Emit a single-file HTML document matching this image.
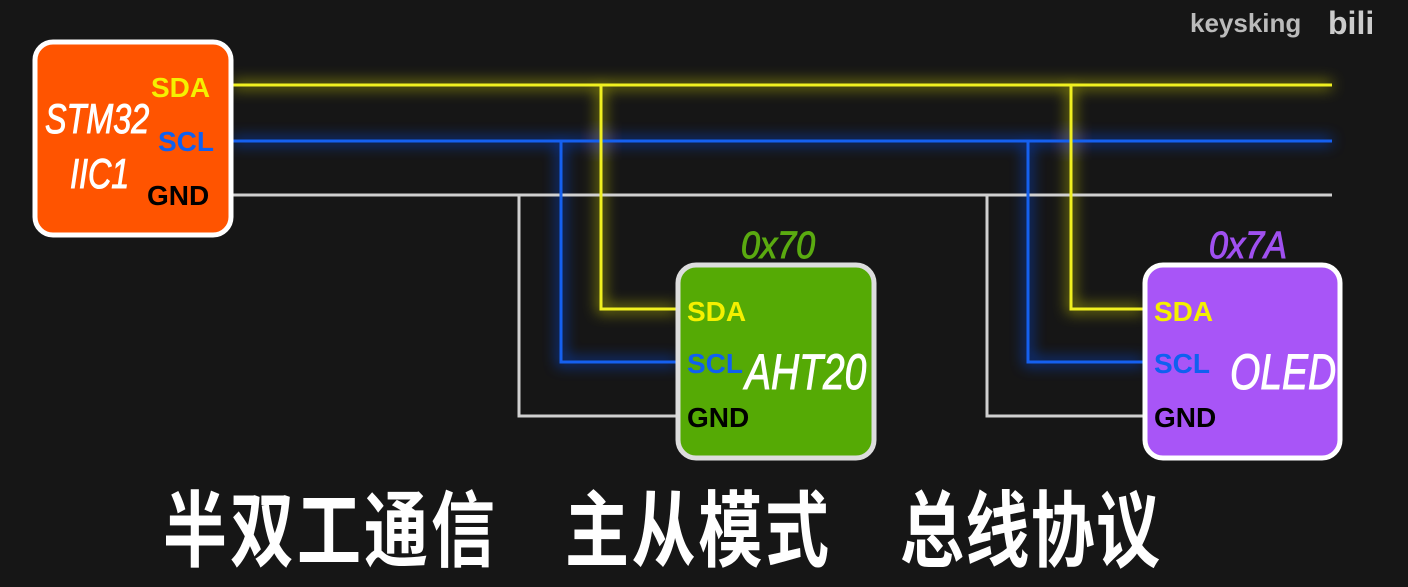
<!DOCTYPE html>
<html><head><meta charset="utf-8"><style>
html,body{margin:0;padding:0;background:#161616;width:1408px;height:587px;overflow:hidden}
svg{display:block}
.pin{font-family:"Liberation Sans","DejaVu Sans",sans-serif;font-weight:bold;font-size:28px}
.cond{font-family:"Liberation Sans Narrow","Liberation Sans",sans-serif;font-style:italic;stroke-width:1}
.cjk{font-family:"Liberation Sans","Noto Sans CJK SC",sans-serif;font-weight:bold;font-size:64px;fill:#fff}
</style></head><body>
<svg width="1408" height="587" viewBox="0 0 1408 587" xmlns="http://www.w3.org/2000/svg">
<defs>
<filter id="glow" x="-10%" y="-50%" width="120%" height="200%"><feGaussianBlur stdDeviation="7"/></filter>
</defs>
<rect width="1408" height="587" fill="#161616"/>
<g filter="url(#glow)" opacity="0.55" fill="none" stroke-width="8">
<path d="M232 85H1332M601 85V309H676M1071 85V309H1143" stroke="#e0e000"/>
<path d="M232 141H1332M561 141V362H676M1028 141V362H1143" stroke="#0a50ff"/>
</g>
<g fill="none" stroke-width="3">
<path d="M232 195H1332M519 195V416H676M987 195V416H1143" stroke="#d0d0d0"/>
<path d="M232 141H1332M561 141V362H676M1028 141V362H1143" stroke="#1560f0"/>
<path d="M232 85H1332M601 85V309H676M1071 85V309H1143" stroke="#f0f020"/>
</g>
<rect x="35" y="42" width="196" height="193" rx="18" fill="#ff5400" stroke="#fff" stroke-width="5"/>
<g transform="translate(45,133) scale(0.77,1)"><text class="cond" font-size="42" fill="#fff" stroke="#fff">STM32</text></g>
<g transform="translate(70,188) scale(0.77,1)"><text class="cond" font-size="42" fill="#fff" stroke="#fff">IIC1</text></g>
<text class="pin" x="151" y="97" fill="#f5f000">SDA</text>
<text class="pin" x="158" y="151" fill="#1060f0">SCL</text>
<text class="pin" x="147" y="205" fill="#000">GND</text>
<rect x="678" y="265" width="196" height="193" rx="18" fill="#55aa05" stroke="#ddd" stroke-width="5"/>
<g transform="translate(741,258) scale(0.9,1)"><text class="cond" font-size="38" fill="#5aaa10" stroke="#5aaa10">0x70</text></g>
<text class="pin" x="687" y="321" fill="#f5f000">SDA</text>
<text class="pin" x="687" y="373" fill="#1060f0">SCL</text>
<text class="pin" x="687" y="427" fill="#000">GND</text>
<g transform="translate(745,389) scale(0.78,1)"><text class="cond" font-size="50" fill="#fff" stroke="#fff">AHT20</text></g>
<rect x="1145" y="265" width="195" height="193" rx="18" fill="#a855f7" stroke="#fff" stroke-width="5"/>
<g transform="translate(1209,258) scale(0.9,1)"><text class="cond" font-size="38" fill="#a050f0" stroke="#a050f0">0x7A</text></g>
<text class="pin" x="1154" y="321" fill="#f5f000">SDA</text>
<text class="pin" x="1154" y="373" fill="#1060f0">SCL</text>
<text class="pin" x="1154" y="427" fill="#000">GND</text>
<g transform="translate(1230,389) scale(0.78,1)"><text class="cond" font-size="50" fill="#fff" stroke="#fff">OLED</text></g>
<text x="1190" y="32" font-family="Liberation Sans,sans-serif" font-weight="bold" font-size="26" fill="#bbb">keysking</text>
<text x="1328" y="34" font-family="Liberation Sans,sans-serif" font-weight="bold" font-size="32" fill="#ccc">bili</text>
<g transform="translate(163,560) scale(1,1.3)">
<text class="cjk" x="0" y="0" textLength="332">半双工通信</text>
<text class="cjk" x="402" y="0" textLength="264">主从模式</text>
<text class="cjk" x="737" y="0" textLength="260">总线协议</text>
</g>
</svg>
</body></html>
